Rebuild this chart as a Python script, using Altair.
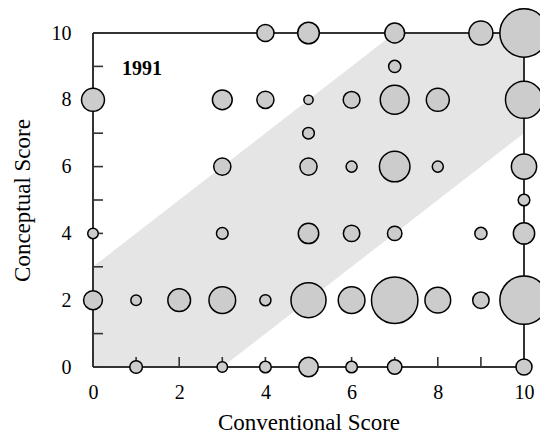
import altair as alt
import pandas as pd

# Bubble data: conventional score (x), conceptual score (y), relative count (area)
conv = [4, 5, 7, 9, 10,
        7,
        0, 3, 4, 5, 6, 7, 8, 10,
        5,
        3, 5, 6, 7, 8, 10,
        10,
        0, 3, 5, 6, 7, 9, 10,
        0, 1, 2, 3, 4, 5, 6, 7, 8, 9, 10,
        1, 3, 4, 5, 6, 7, 10]
concept = [10, 10, 10, 10, 10,
           9,
           8, 8, 8, 8, 8, 8, 8, 8,
           7,
           6, 6, 6, 6, 6, 6,
           5,
           4, 4, 4, 4, 4, 4, 4,
           2, 2, 2, 2, 2, 2, 2, 2, 2, 2, 2,
           0, 0, 0, 0, 0, 0, 0]
count = [2.4, 3.8, 3.2, 4.7, 19.0,
         1.2,
         4.3, 3.2, 2.4, 0.7, 2.3, 6.8, 4.3, 11.2,
         1.1,
         2.4, 2.4, 1.0, 7.6, 1.0, 5.2,
         1.1,
         0.9, 1.1, 3.4, 2.2, 1.7, 1.2, 3.7,
         2.9, 0.9, 4.2, 5.8, 1.0, 10.0, 5.8, 17.6, 5.4, 2.2, 19.0,
         1.3, 0.9, 1.1, 3.1, 1.1, 1.7, 2.1]

# Shaded agreement band (|conceptual - conventional| <= 3)
band_x = [0, 3, 7, 10]
band_lo = [0, 0, 4, 7]
band_hi = [3, 6, 10, 10]

# Frame around the score domain (bottom, top, left, right)
frame_x = [0, 0, 0, 10]
frame_x2 = [10, 10, 0, 10]
frame_y = [0, 10, 0, 0]
frame_y2 = [0, 10, 10, 10]

tick_vals = list(range(0, 11))
label_vals = [0, 2, 4, 6, 8, 10]

W, H = 431, 334
FONT = "Liberation Serif"

pts = pd.DataFrame({"x": conv, "y": concept, "n": count})
band = pd.DataFrame({"x": band_x, "lo": band_lo, "hi": band_hi})
frame = pd.DataFrame({"x": frame_x, "x2": frame_x2, "y": frame_y, "y2": frame_y2})
ticks = pd.DataFrame({"v": tick_vals})

xscale = alt.Scale(domain=[0, 10], nice=False, zero=False)
yscale = alt.Scale(domain=[0, 10], nice=False, zero=False)

xaxis = alt.Axis(values=label_vals, domain=False, ticks=False, tickSize=0, grid=False,
                 labelFlush=False, labelOverlap=False,
                 labelPadding=15, labelFontSize=20, labelFont=FONT, labelColor="black",
                 title="Conventional Score", titleFont=FONT, titleFontSize=23,
                 titleFontWeight="normal", titleColor="black",
                 titleY=62, titleBaseline="alphabetic")
yaxis = alt.Axis(values=label_vals, domain=False, ticks=False, tickSize=0, grid=False,
                 labelFlush=False, labelOverlap=False,
                 labelPadding=22, labelFontSize=20, labelFont=FONT, labelColor="black",
                 title="Conceptual Score", titleFont=FONT, titleFontSize=23,
                 titleFontWeight="normal", titleColor="black",
                 titleX=-64, titleY=H / 2, titleBaseline="alphabetic", titleAngle=-90)

band_layer = alt.Chart(band).mark_area(color="#e5e5e5", opacity=1).encode(
    x=alt.X("x:Q", scale=xscale, axis=xaxis),
    y=alt.Y("lo:Q", scale=yscale, axis=yaxis),
    y2="hi:Q",
)

frame_layer = alt.Chart(frame).mark_rule(color="#333333", strokeWidth=2).encode(
    x=alt.X("x:Q", scale=xscale),
    x2="x2:Q",
    y=alt.Y("y:Q", scale=yscale),
    y2="y2:Q",
)

xticks = alt.Chart(ticks).mark_rule(color="#333333", strokeWidth=1.6).encode(
    x=alt.X("v:Q", scale=xscale),
    y=alt.value(H),
    y2=alt.value(H - 10),
)
yticks = alt.Chart(ticks).mark_rule(color="#333333", strokeWidth=1.6).encode(
    y=alt.Y("v:Q", scale=yscale),
    x=alt.value(0),
    x2=alt.value(10),
)

bubbles = alt.Chart(pts).mark_circle(
    fill="#cccccc", stroke="black", strokeWidth=1.5, opacity=1, fillOpacity=1
).encode(
    x=alt.X("x:Q", scale=xscale),
    y=alt.Y("y:Q", scale=yscale),
    size=alt.Size("n:Q", scale=alt.Scale(domain=[0, 16], range=[0, 1963]), legend=None),
)

year = alt.Chart(pd.DataFrame({"x": [0.67], "y": [8.74], "t": ["1991"]})).mark_text(
    font=FONT, fontSize=20, fontWeight="bold", align="left", baseline="alphabetic", color="black"
).encode(
    x=alt.X("x:Q", scale=xscale),
    y=alt.Y("y:Q", scale=yscale),
    text="t:N",
)

chart = alt.layer(band_layer, frame_layer, xticks, yticks, bubbles, year).properties(
    width=W, height=H,
    autosize=alt.AutoSizeParams(type="none"),
    padding={"left": 85, "top": 25, "right": 16, "bottom": 70},
).configure_view(strokeWidth=0).configure(background="white")

chart.save("out.html", embed_options={"renderer": "svg", "actions": False})
